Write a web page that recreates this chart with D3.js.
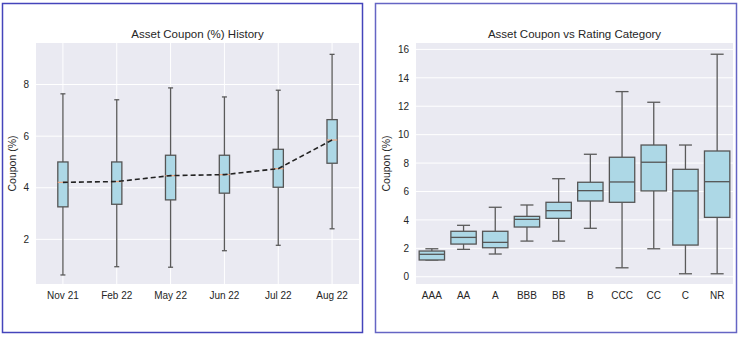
<!DOCTYPE html>
<html>
<head>
<meta charset="utf-8">
<script src="https://cdn.jsdelivr.net/npm/d3@7"></script>
<style>
  body { margin: 0; background: #fff; }
  text { font-family: "Liberation Sans", Arial, sans-serif; fill: #262626; }
</style>
</head>
<body>
<script>
'use strict'

// left panel: coupon history by date
const historyDates = ['Nov 21', 'Feb 22', 'May 22', 'Jun 22', 'Jul 22', 'Aug 22'];
const historyMin = [0.62, 0.94, 0.92, 1.56, 1.77, 2.41];
const historyQ1 = [3.26, 3.36, 3.53, 3.79, 4.02, 4.95];
const historyMedian = [4.21, 4.24, 4.47, 4.51, 4.74, 5.85];
const historyQ3 = [5.0, 5.0, 5.26, 5.26, 5.49, 6.64];
const historyMax = [7.64, 7.41, 7.87, 7.52, 7.78, 9.17];
const historyTicks = [2, 4, 6, 8];

// right panel: coupon by rating
const ratings = ['AAA', 'AA', 'A', 'BBB', 'BB', 'B', 'CCC', 'CC', 'C', 'NR'];
const ratingMin = [1.18, 1.93, 1.6, 2.51, 2.51, 3.41, 0.63, 1.97, 0.21, 0.21];
const ratingQ1 = [1.18, 2.3, 2.04, 3.5, 4.11, 5.33, 5.24, 6.04, 2.23, 4.18];
const ratingMedian = [1.58, 2.77, 2.42, 4.04, 4.65, 6.06, 6.67, 8.06, 6.04, 6.69];
const ratingQ3 = [1.81, 3.2, 3.2, 4.25, 5.24, 6.65, 8.41, 9.27, 7.56, 8.85];
const ratingMax = [1.97, 3.62, 4.89, 5.05, 6.9, 8.62, 13.03, 12.28, 9.27, 15.66];
const ratingTicks = [0, 2, 4, 6, 8, 10, 12, 14, 16];

const svg = d3.select('body').append('svg')
  .attr('width', 740)
  .attr('height', 339);

// panel frames
svg.append('rect')
  .attr('x', 2.5).attr('y', 3.5).attr('width', 360).attr('height', 329)
  .attr('fill', 'none').attr('stroke', '#4444bb').attr('stroke-width', 1.5);
svg.append('rect')
  .attr('x', 375.5).attr('y', 3.5).attr('width', 361).attr('height', 329)
  .attr('fill', 'none').attr('stroke', '#6565c4').attr('stroke-width', 1.5);

const toRows = (cats, mn, q1, md, q3, mx) =>
  cats.map((c, i) => ({cat: c, min: mn[i], q1: q1[i], med: md[i], q3: q3[i], max: mx[i]}));

function drawPanel(opt) {
  const g = svg.append('g');
  const x = d3.scaleBand().domain(opt.cats).range([opt.left, opt.right]).padding(0);
  const y = d3.scaleLinear().domain(opt.yDomain).range([opt.bottom, opt.top]);
  const cx = d => x(d.cat) + x.bandwidth() / 2;
  const bw = x.bandwidth() * opt.boxFrac;

  g.append('rect')
    .attr('x', opt.left).attr('y', opt.top)
    .attr('width', opt.right - opt.left).attr('height', opt.bottom - opt.top)
    .attr('fill', '#eaeaf2');

  // grid
  g.selectAll('.hgrid').data(opt.ticks).enter().append('line')
    .attr('x1', opt.left).attr('x2', opt.right)
    .attr('y1', d => y(d)).attr('y2', d => y(d))
    .attr('stroke', '#fff').attr('stroke-width', 1);
  if (opt.vgrid) {
    g.selectAll('.vgrid').data(opt.cats).enter().append('line')
      .attr('x1', d => x(d) + x.bandwidth() / 2).attr('x2', d => x(d) + x.bandwidth() / 2)
      .attr('y1', opt.top).attr('y2', opt.bottom)
      .attr('stroke', '#fff').attr('stroke-width', 1);
  }

  // axes, no tick marks and no domain line
  const yAxis = g.append('g')
    .attr('transform', 'translate(' + [opt.left, 0] + ')')
    .call(d3.axisLeft(y).tickValues(opt.ticks).tickSize(0).tickPadding(7).tickFormat(d3.format('d')));
  const xAxis = g.append('g')
    .attr('transform', 'translate(' + [0, opt.bottom] + ')')
    .call(d3.axisBottom(x).tickSize(0).tickPadding(8));
  [yAxis, xAxis].forEach(a => {
    a.select('.domain').remove();
    a.selectAll('text').attr('font-size', 10).attr('fill', '#262626')
      .style('font-family', '"Liberation Sans", Arial, sans-serif');
  });

  const box = g.selectAll('.box').data(opt.rows).enter().append('g');

  box.append('line')
    .attr('x1', cx).attr('x2', cx)
    .attr('y1', d => y(d.max)).attr('y2', d => y(d.q3))
    .attr('stroke', '#5a5a5a').attr('stroke-width', 1.3);
  box.append('line')
    .attr('x1', cx).attr('x2', cx)
    .attr('y1', d => y(d.q1)).attr('y2', d => y(d.min))
    .attr('stroke', '#5a5a5a').attr('stroke-width', 1.3);
  ['max', 'min'].forEach(k => {
    box.append('line')
      .attr('x1', d => cx(d) - opt.capHalf).attr('x2', d => cx(d) + opt.capHalf)
      .attr('y1', d => y(d[k])).attr('y2', d => y(d[k]))
      .attr('stroke', '#5a5a5a').attr('stroke-width', 1.3);
  });
  box.append('rect')
    .attr('x', d => cx(d) - bw / 2).attr('width', bw)
    .attr('y', d => y(d.q3)).attr('height', d => y(d.q1) - y(d.q3))
    .attr('fill', '#add8e6').attr('stroke', '#555').attr('stroke-width', 1.3);
  box.append('line')
    .attr('x1', d => cx(d) - bw / 2).attr('x2', d => cx(d) + bw / 2)
    .attr('y1', d => y(d.med)).attr('y2', d => y(d.med))
    .attr('stroke', opt.medColor).attr('stroke-width', opt.medWidth);

  if (opt.medianLine) {
    g.append('path')
      .datum(opt.rows)
      .attr('d', d3.line().x(cx).y(d => y(d.med)))
      .attr('fill', 'none').attr('stroke', '#222')
      .attr('stroke-width', 1.6).attr('stroke-dasharray', '5,3');
  }

  g.append('text')
    .attr('x', (opt.left + opt.right) / 2).attr('y', opt.top - 5)
    .attr('text-anchor', 'middle').attr('font-size', 11.5)
    .text(opt.title);
  g.append('text')
    .attr('transform', 'translate(' + [opt.ylabelX, (opt.top + opt.bottom) / 2] + ') rotate(-90)')
    .attr('text-anchor', 'middle').attr('font-size', 10.5)
    .text('Coupon (%)');
}

drawPanel({
  cats: historyDates,
  rows: toRows(historyDates, historyMin, historyQ1, historyMedian, historyQ3, historyMax),
  ticks: historyTicks,
  yDomain: [0.27, 9.61],
  left: 36, right: 359, top: 43, bottom: 284,
  boxFrac: 0.19, capHalf: 2.5,
  medColor: '#f0a884', medWidth: 1.2,
  vgrid: true, medianLine: true,
  title: 'Asset Coupon (%) History',
  ylabelX: 16
});

drawPanel({
  cats: ratings,
  rows: toRows(ratings, ratingMin, ratingQ1, ratingMedian, ratingQ3, ratingMax),
  ticks: ratingTicks,
  yDomain: [-0.51, 16.45],
  left: 416, right: 733, top: 43, bottom: 284,
  boxFrac: 0.8, capHalf: 6.5,
  medColor: '#555', medWidth: 1.3,
  vgrid: false, medianLine: false,
  title: 'Asset Coupon vs Rating Category',
  ylabelX: 390
});
</script>
</body>
</html>
